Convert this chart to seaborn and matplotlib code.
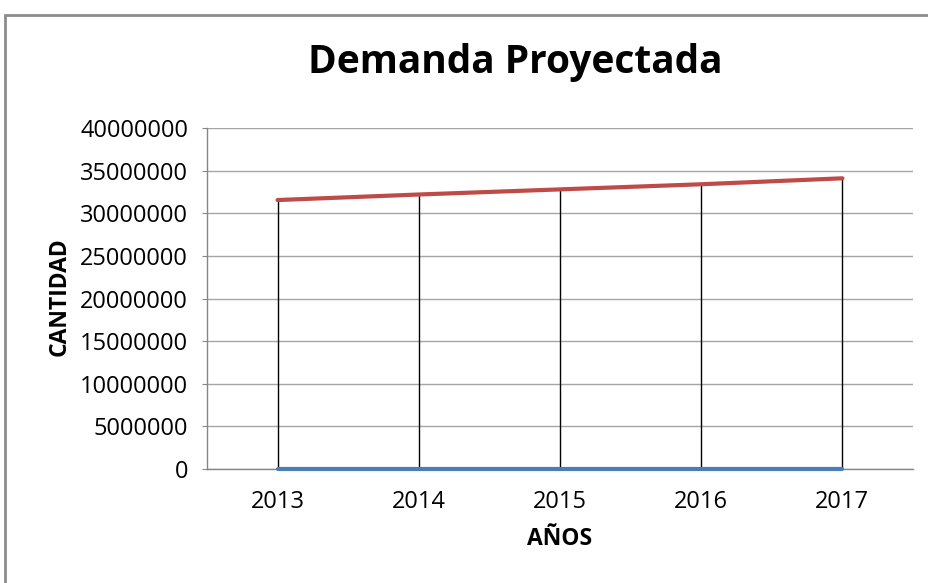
import matplotlib
matplotlib.use("Agg")
import matplotlib.pyplot as plt
import matplotlib.patches as mpatches
import seaborn as sns
import pandas as pd

# Datos
anios = ["2013", "2014", "2015", "2016", "2017"]
demanda = [31550000, 32200000, 32800000, 33400000, 34100000]
serie_anios = [2013, 2014, 2015, 2016, 2017]  # serie azul (aparece en 0 por la escala)

sns.set_style("white")
plt.rcParams['font.family'] = ['Open Sans', 'DejaVu Sans']
plt.rcParams['text.color'] = 'black'
plt.rcParams['xtick.color'] = 'black'
plt.rcParams['ytick.color'] = 'black'

df = pd.DataFrame({"anio": anios, "demanda": demanda, "base": serie_anios})
df["x"] = range(len(df))

fig = plt.figure(figsize=(9.29, 5.83), dpi=100)
ax = fig.add_axes([207 / 929, 1 - 469 / 583, (913 - 207) / 929, (469 - 128) / 583])

# líneas de caída (negras) desde la serie roja hasta la base
ax.vlines(df["x"], df["base"], df["demanda"], color="black", linewidth=1, zorder=2)

sns.lineplot(data=df, x="x", y="base", color="#4a7ebb", linewidth=3, ax=ax, zorder=4)
sns.lineplot(data=df, x="x", y="demanda", color="#be4b48", linewidth=3, ax=ax, zorder=4)
for ln in ax.lines:
    ln.set_clip_on(False)

ax.set_xlim(-0.5, 4.5)
ax.set_ylim(0, 40000000)
ax.set_yticks(range(0, 40000001, 5000000))
ax.set_yticklabels([str(v) for v in range(0, 40000001, 5000000)], fontsize=17)
ax.set_xticks(df["x"])
ax.set_xticklabels(anios, fontsize=17)
ax.yaxis.grid(True, color="#a6a6a6", linewidth=1)
ax.set_axisbelow(True)
ax.tick_params(axis="y", length=3.6, color="#868686", labelcolor="black", pad=10, left=True)
ax.tick_params(axis="x", length=0, labelcolor="black", pad=15)
for s in ["top", "right"]:
    ax.spines[s].set_visible(False)
for s in ["left", "bottom"]:
    ax.spines[s].set_color("#868686")
    ax.spines[s].set_linewidth(1)
ax.set_xlabel("")
ax.set_ylabel("")

fig.text(515 / 929, 1 - 73 / 583, "Demanda Proyectada", ha="center", va="baseline",
         fontsize=28, fontweight="bold", color="black")
fig.text(60 / 929, 1 - 297 / 583, "CANTIDAD", ha="center", va="center",
         rotation=90, fontsize=16.5, fontweight="bold", color="black")
fig.text(560 / 929, 1 - 545 / 583, "AÑOS", ha="center", va="baseline",
         fontsize=16.5, fontweight="bold", color="black")

# marco del área del gráfico
frame = mpatches.Rectangle((5 / 929, -0.1), 1.2, 1.1 - 15 / 583, transform=fig.transFigure,
                           fill=False, edgecolor="#8c8c8c", linewidth=2, clip_on=False)
fig.patches.append(frame)

plt.savefig("out.png", dpi=100)
